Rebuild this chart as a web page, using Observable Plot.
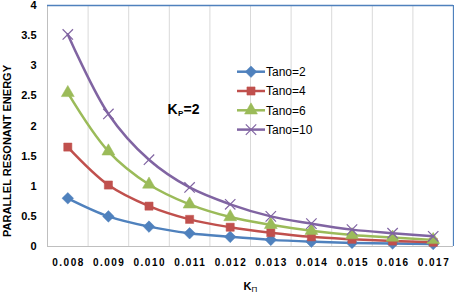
<!DOCTYPE html>
<html>
<head>
<meta charset="utf-8">
<script src="https://cdn.jsdelivr.net/npm/d3@7"></script>
<script src="https://cdn.jsdelivr.net/npm/@observablehq/plot@0.6"></script>
<style>
  html, body { margin: 0; padding: 0; background: #fff; }
  #wrap { position: relative; width: 454px; height: 293px; overflow: hidden; }
  #legend { position: absolute; left: 0; top: 0; pointer-events: none; }
</style>
</head>
<body>
<div id="wrap"></div>
<script>
// ---- data ----
const categories = [0.008, 0.009, 0.010, 0.011, 0.012, 0.013, 0.014, 0.015, 0.016, 0.017];
const seriesNames = ["Tano=2", "Tano=4", "Tano=6", "Tano=10"];
const tano2  = [0.80, 0.50, 0.33, 0.22, 0.16, 0.11, 0.08, 0.06, 0.05, 0.04];
const tano4  = [1.65, 1.02, 0.67, 0.45, 0.32, 0.23, 0.16, 0.12, 0.09, 0.07];
const tano6  = [2.55, 1.58, 1.03, 0.70, 0.49, 0.36, 0.26, 0.19, 0.15, 0.11];
const tano10 = [3.52, 2.20, 1.44, 0.98, 0.70, 0.50, 0.38, 0.28, 0.22, 0.17];
const yTicks = [0, 0.5, 1, 1.5, 2, 2.5, 3, 3.5, 4];
const colors = ["#4F81BD", "#C0504D", "#9BBB59", "#8064A2"];
const symbols = ["diamond2", "square", "triangle", "times"];
const yTitle = "PARALLEL RESONANT ENERGY";

const allValues = [tano2, tano4, tano6, tano10];
const rows = [];
allValues.forEach((vals, si) => {
  vals.forEach((v, i) => rows.push({k: categories[i], v, s: seriesNames[si]}));
});
const step = categories[1] - categories[0];
const bounds = d3.range(categories.length + 1).map(i => categories[0] - step / 2 + i * step);
const xDomain = [bounds[0], bounds[bounds.length - 1]];

const font = "'Liberation Sans', Arial, sans-serif";
const symbolSizes = {"diamond2": 5.2, "square": 4.6, "triangle": 4.8, "times": 4.8};

const marks = [
  Plot.ruleX(bounds.slice(1, -1), {stroke: "#d9d9d9", strokeWidth: 1}),
  Plot.ruleX([bounds[0]], {stroke: "#bfbfbf", strokeWidth: 1}),
  Plot.ruleY([0], {stroke: "#bfbfbf", strokeWidth: 1}),
  Plot.ruleY([4], {stroke: "#4F81BD", strokeWidth: 1.3}),
  Plot.ruleX([bounds[bounds.length - 1]], {stroke: "#4F81BD", strokeWidth: 1.3}),
  Plot.axisY({ticks: yTicks, tickSize: 0, tickPadding: 11, tickFormat: d => String(d),
    fontSize: 11, fontWeight: "bold", label: null}),
  Plot.axisX({ticks: categories, tickSize: 0, tickPadding: 12, tickFormat: d3.format(".3f"),
    fontSize: 10, fontWeight: "bold", label: null}),
];
seriesNames.forEach((name, si) => {
  const data = rows.filter(d => d.s === name);
  marks.push(Plot.line(data, {x: "k", y: "v", stroke: colors[si], strokeWidth: 2.5, curve: "catmull-rom"}));
  const sym = symbols[si];
  const isLine = sym === "times";
  marks.push(Plot.dot(data, {x: "k", y: "v", symbol: () => sym, r: symbolSizes[sym],
    fill: isLine ? "none" : colors[si], stroke: colors[si], strokeWidth: isLine ? 1.2 : 0.5}));
});
// y-axis title
marks.push(Plot.text([yTitle], {frameAnchor: "left", text: d => d, rotate: -90, dx: -40, dy: 25,
  textAnchor: "middle", fontSize: 11, fontWeight: "bold", fill: "#000"}));
// K_P=2 annotation
marks.push(Plot.text(["K"], {frameAnchor: "top-left", text: d => d, dx: 120, dy: 99, textAnchor: "start", lineAnchor: "top",
  fontSize: 14, fontWeight: "bold", fill: "#000"}));
marks.push(Plot.text(["P"], {frameAnchor: "top-left", text: d => d, dx: 130.5, dy: 105, textAnchor: "start", lineAnchor: "top",
  fontSize: 8, fontWeight: "bold", fill: "#000"}));
marks.push(Plot.text(["=2"], {frameAnchor: "top-left", text: d => d, dx: 136, dy: 99, textAnchor: "start", lineAnchor: "top",
  fontSize: 14, fontWeight: "bold", fill: "#000"}));
// x-axis title K_Π
marks.push(Plot.text(["K"], {frameAnchor: "bottom-left", text: d => d, dx: 196, dy: 36, textAnchor: "start", lineAnchor: "top",
  fontSize: 11, fontWeight: "bold", fill: "#000"}));
marks.push(Plot.text(["Π"], {frameAnchor: "bottom-left", text: d => d, dx: 204, dy: 40, textAnchor: "start", lineAnchor: "top",
  fontSize: 8, fontWeight: "normal", fill: "#000"}));

const chart = Plot.plot({
  width: 454, height: 293,
  marginLeft: 47, marginRight: 1, marginTop: 5, marginBottom: 47,
  style: {fontFamily: font, background: "#fff", color: "#000", overflow: "visible"},
  x: {type: "linear", domain: xDomain},
  y: {domain: [0, 4]},
  marks
});
document.getElementById("wrap").appendChild(chart);
// spaced-out x tick labels like the reference
d3.select(chart).selectAll('g[aria-label="x-axis tick label"] text')
  .attr("letter-spacing", "1.5px").attr("dx", "0.75px");

// legend overlay
const leg = d3.select("#wrap").append("svg").attr("id", "legend").attr("width", 454).attr("height", 293);
const symMap = {"diamond2": d3.symbolDiamond2, "square": d3.symbolSquare, "triangle": d3.symbolTriangle, "times": d3.symbolTimes};
seriesNames.forEach((name, i) => {
  const y = 71.7 + i * 19.3;
  const g = leg.append("g");
  g.append("line").attr("x1", 237).attr("x2", 265).attr("y1", y).attr("y2", y)
    .attr("stroke", colors[i]).attr("stroke-width", 2.5);
  const sym = symbols[i];
  const r = symbolSizes[sym];
  const isLine = sym === "times";
  g.append("path").attr("transform", `translate(251,${y})`)
    .attr("d", d3.symbol(symMap[sym], Math.PI * r * r)())
    .attr("fill", isLine ? "none" : colors[i]).attr("stroke", colors[i]).attr("stroke-width", isLine ? 1.2 : 0.5);
  g.append("text").attr("x", 266).attr("y", y).attr("dy", "0.36em")
    .attr("font-family", font).attr("font-size", 12).attr("fill", "#000").text(name);
});
</script>
</body>
</html>
